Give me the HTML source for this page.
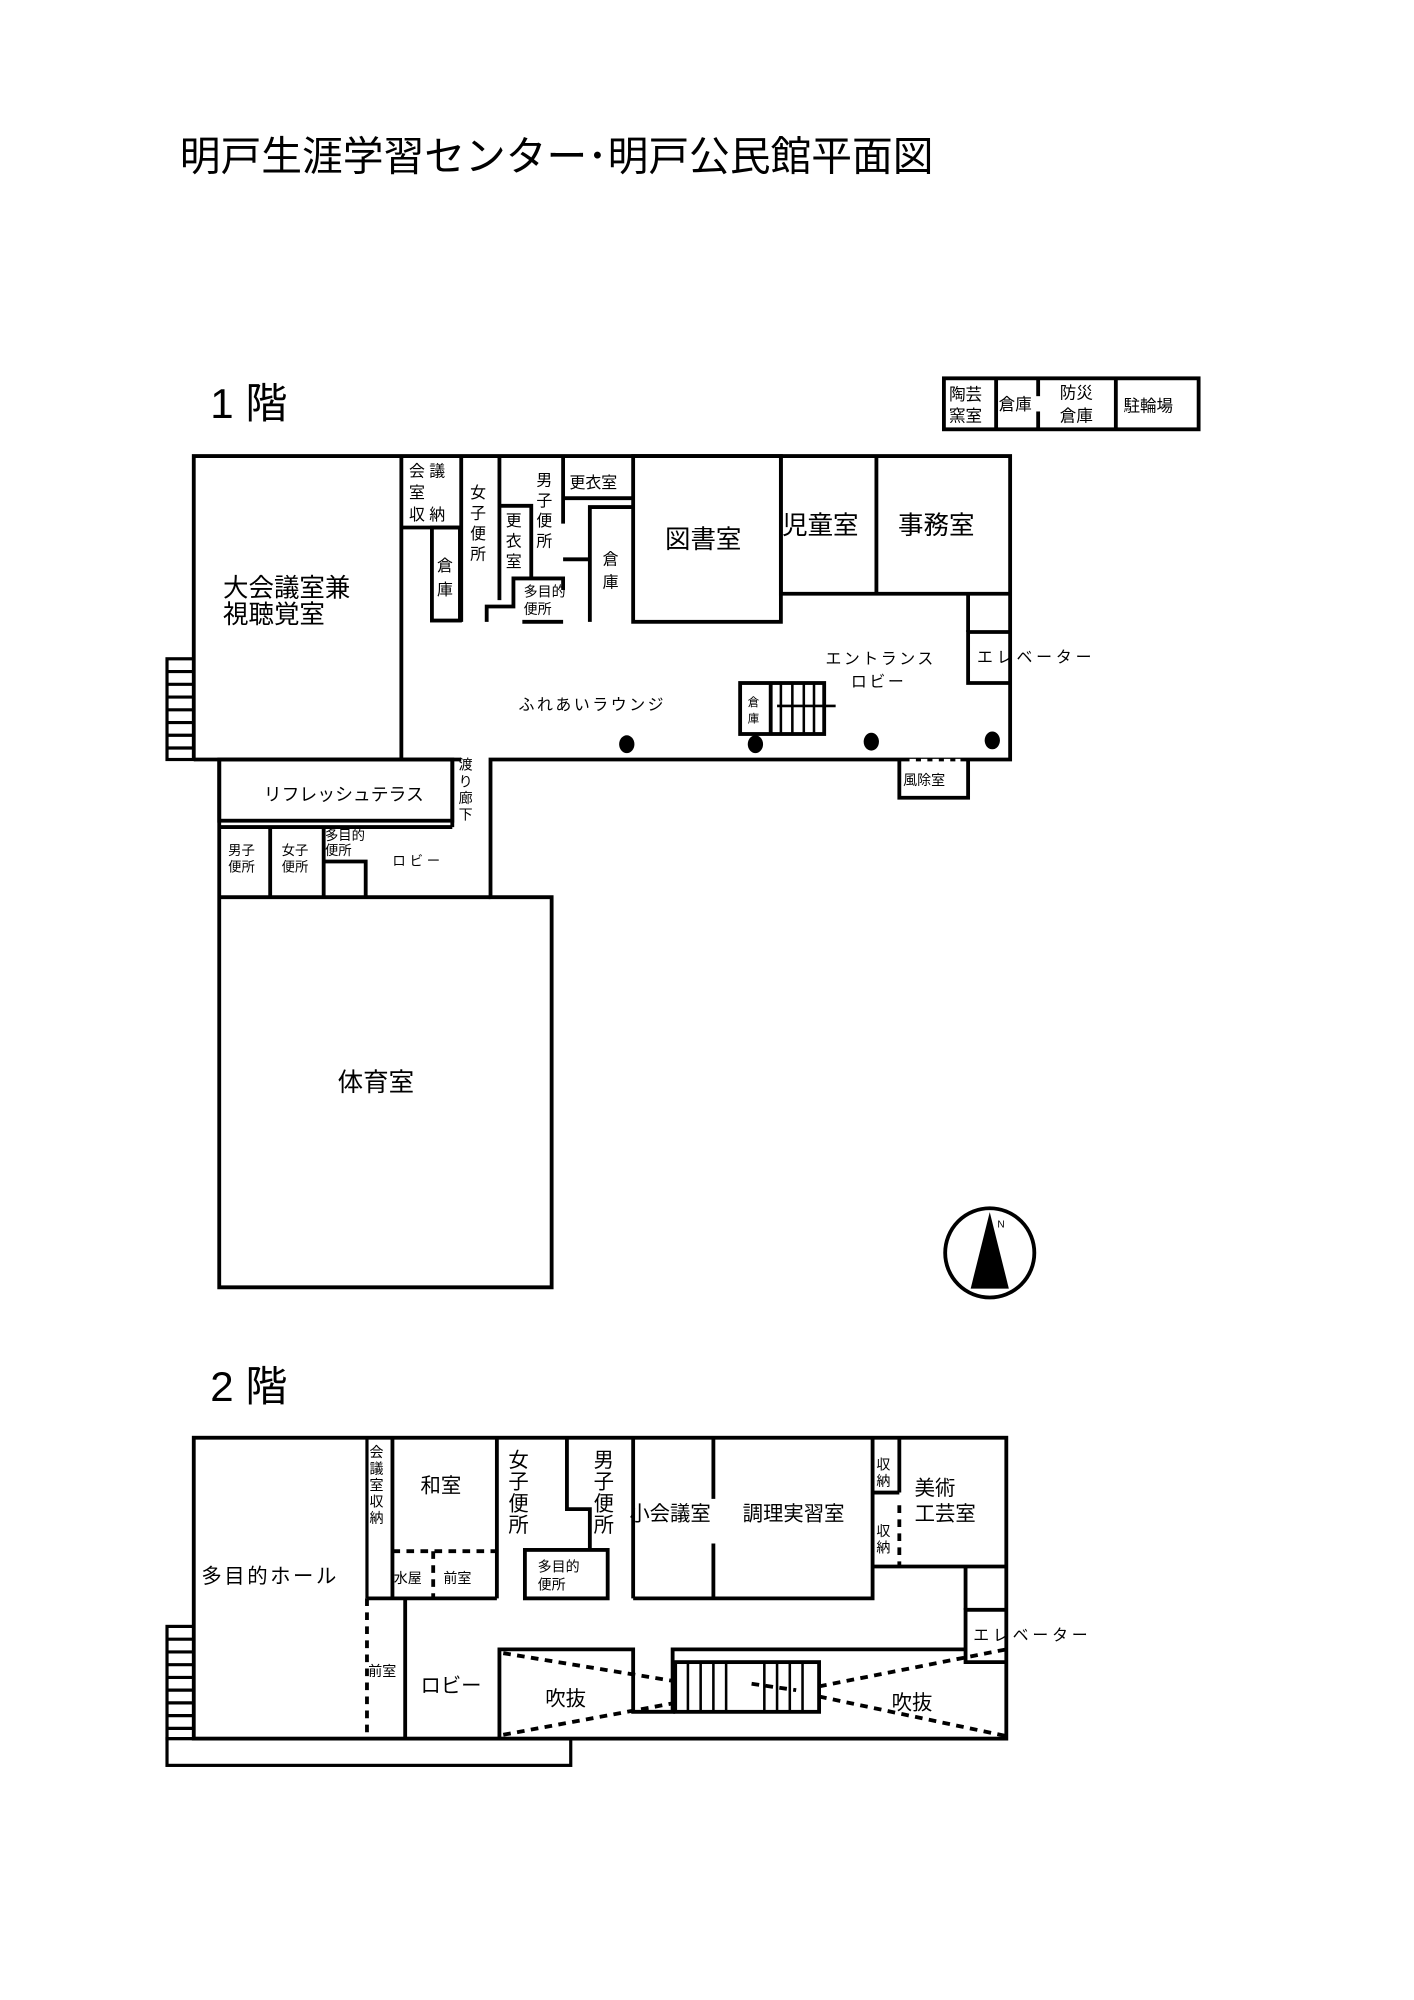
<!DOCTYPE html>
<html><head><meta charset="utf-8"><style>
html,body{margin:0;padding:0;background:#fff;}
svg{display:block;}
text{font-family:"Liberation Sans","Noto Sans CJK JP",sans-serif;fill:#000;}
</style></head><body>
<svg width="1414" height="2000" viewBox="-2.34 -2.34 1104.7 1562.5" xmlns="http://www.w3.org/2000/svg">
<rect x="-3" y="-3" width="1110" height="1570" fill="#fff"/>
<g transform="matrix(0.995 0 0 0.996 -2.2 -1.6)">
<text x="141" y="133" font-size="32">明戸生涯学習センター･明戸公民館平面図</text>

<text x="165" y="327" font-size="33">1 階</text>
<g stroke="#000" fill="none" stroke-width="3">
<rect x="741" y="296" width="200" height="40"/>
<line x1="782" y1="296" x2="782" y2="336"/>
<line x1="815" y1="296" x2="815" y2="310"/><line x1="815" y1="322" x2="815" y2="336"/>
<line x1="876" y1="296" x2="876" y2="336"/>
</g>
<g font-size="13">
<text x="745" y="313">陶芸</text><text x="745" y="330">窯室</text>
<text x="784" y="321">倉庫</text>
<text x="832" y="312">防災</text><text x="832" y="330">倉庫</text>
<text x="882" y="322">駐輪場</text>
</g>

<g stroke="#000" fill="none" stroke-width="3">
<polyline points="152,595 152,357 793,357 793,595 385,595 385,703 433,703 433,1009 172,1009 172,595"/>
<line x1="152" y1="595" x2="362" y2="595"/>
<rect x="131" y="516" width="21" height="79" stroke-width="2.5"/>
<line x1="315" y1="357" x2="315" y2="595"/>
<line x1="315" y1="413" x2="362" y2="413"/>
<rect x="339" y="413" width="22" height="73"/>
<line x1="362" y1="357" x2="362" y2="487"/>
<line x1="392" y1="357" x2="392" y2="470"/>
<polyline points="393,396 417,396 417,453"/>
<polyline points="382,487 382,475 403,475 403,453 442,453 442,462"/>
<line x1="410" y1="487" x2="442" y2="487"/>
<line x1="442" y1="357" x2="442" y2="410"/>
<line x1="442" y1="390" x2="497" y2="390"/>
<line x1="442" y1="438" x2="463" y2="438"/>
<polyline points="463,487 463,397 497,397"/>
<rect x="497" y="357" width="116" height="130"/>
<polyline points="613,357 613,465 793,465"/>
<line x1="688" y1="357" x2="688" y2="465"/>
<polyline points="793,495 760,495 760,535 793,535"/>
<line x1="760" y1="465" x2="760" y2="495"/>
<rect x="581" y="535" width="66" height="40"/>
<line x1="605" y1="535" x2="605" y2="575"/>
<line x1="613" y1="535" x2="613" y2="575" stroke-width="2"/>
<line x1="622" y1="535" x2="622" y2="575" stroke-width="2"/>
<line x1="631" y1="535" x2="631" y2="575" stroke-width="2"/>
<line x1="639" y1="535" x2="639" y2="575" stroke-width="2"/>
<line x1="610" y1="553" x2="656" y2="553" stroke-width="2"/>
<polyline points="706,595 706,625 760,625 760,595"/>
<rect x="172" y="595" width="183" height="48"/>
<line x1="172" y1="648" x2="355" y2="648"/>
<line x1="355" y1="595" x2="355" y2="648"/>
<line x1="172" y1="703" x2="385" y2="703"/>
<line x1="212" y1="648" x2="212" y2="703"/>
<line x1="254" y1="648" x2="254" y2="703"/>
<polyline points="254,675 287,675 287,703"/>
<circle cx="777" cy="982" r="35" stroke-width="3"/>
</g>
<polygon points="777,950 762,1010 792,1010" fill="#000"/>
<text x="783" y="962" font-size="8">N</text>
<g fill="#000">
<ellipse cx="492" cy="583" rx="6" ry="7"/><ellipse cx="593" cy="583" rx="6" ry="7"/>
<ellipse cx="684" cy="581" rx="6" ry="7"/><ellipse cx="779" cy="580" rx="6" ry="7"/>
</g>
<g stroke="#000" stroke-width="2.5">
<line x1="131" y1="526" x2="152" y2="526"/><line x1="131" y1="536" x2="152" y2="536"/>
<line x1="131" y1="546" x2="152" y2="546"/><line x1="131" y1="556" x2="152" y2="556"/>
<line x1="131" y1="566" x2="152" y2="566"/><line x1="131" y1="576" x2="152" y2="576"/>
<line x1="131" y1="586" x2="152" y2="586"/>
</g>
<line x1="714" y1="596" x2="754" y2="596" stroke="#fff" stroke-width="3" stroke-dasharray="5,4"/>

<g font-size="20">
<text x="175" y="467">大会議室兼</text><text x="175" y="488">視聴覚室</text>
<text x="522" y="429">図書室</text>
<text x="614" y="418">児童室</text><text x="705" y="418">事務室</text>
<text x="265" y="855">体育室</text>
</g>
<g font-size="12.5">
<text x="321" y="373">会 議</text><text x="321" y="390">室</text><text x="321" y="407">収 納</text>
<text x="343" y="447">倉</text><text x="343" y="466">庫</text>
<text x="369" y="390">女</text><text x="369" y="406">子</text><text x="369" y="422">便</text><text x="369" y="438">所</text>
<text x="397" y="412">更</text><text x="397" y="428">衣</text><text x="397" y="444">室</text>
<text x="421" y="380">男</text><text x="421" y="396">子</text><text x="421" y="412">便</text><text x="421" y="428">所</text>
<text x="447" y="382">更衣室</text>
<text x="473" y="442">倉</text><text x="473" y="460">庫</text>
<text x="411" y="467" font-size="11">多目的</text><text x="411" y="481" font-size="11">便所</text>
<text x="407" y="556" letter-spacing="2">ふれあいラウンジ</text>
<text x="648" y="520" letter-spacing="2">エントランス</text><text x="668" y="538" letter-spacing="2">ロビー</text>
<text x="767" y="519" letter-spacing="3">エレベーター</text>
<text x="587" y="553" font-size="9">倉</text><text x="587" y="566" font-size="9">庫</text>
<text x="709" y="615" font-size="11">風除室</text>
<text x="207" y="627" font-size="14">リフレッシュテラス</text>
<text x="360" y="603" font-size="11">渡</text><text x="360" y="616" font-size="11">り</text><text x="360" y="629" font-size="11">廊</text><text x="360" y="642" font-size="11">下</text>
<text x="179" y="670" font-size="10.5">男子</text><text x="179" y="683" font-size="10.5">便所</text>
<text x="221" y="670" font-size="10.5">女子</text><text x="221" y="683" font-size="10.5">便所</text>
<text x="255" y="658" font-size="10.5">多目的</text><text x="255" y="670" font-size="10.5">便所</text>
<text x="308" y="678" font-size="10.5" letter-spacing="3">ロビー</text>
</g>

<text x="165" y="1098" font-size="33">2 階</text>
<g stroke="#000" fill="none" stroke-width="3">
<rect x="152" y="1127" width="638" height="236"/>
<rect x="131" y="1363" width="317" height="21" stroke-width="2.5"/>
<rect x="131" y="1275" width="21" height="88" stroke-width="2.5"/>
<line x1="288" y1="1127" x2="288" y2="1253" stroke-width="2.5"/>
<line x1="308" y1="1127" x2="308" y2="1253"/>
<line x1="288" y1="1253" x2="390" y2="1253"/>
<line x1="390" y1="1127" x2="390" y2="1253"/>
<line x1="318" y1="1253" x2="318" y2="1363"/>
<polyline points="445,1127 445,1183 463,1183 463,1215"/>
<rect x="412" y="1215" width="65" height="38"/>
<line x1="497" y1="1127" x2="497" y2="1253"/>
<line x1="560" y1="1127" x2="560" y2="1175"/><line x1="560" y1="1210" x2="560" y2="1253"/>
<polyline points="497,1253 685,1253 685,1127"/>
<line x1="685" y1="1170" x2="706" y2="1170"/>
<line x1="706" y1="1127" x2="706" y2="1170"/>
<line x1="685" y1="1228" x2="790" y2="1228"/>
<polyline points="790,1262 758,1262 758,1303 790,1303"/>
<line x1="758" y1="1228" x2="758" y2="1262"/>
<polyline points="392,1363 392,1293 497,1293 497,1342 530,1342"/>
<polyline points="528,1342 528,1293 758,1293"/>
<rect x="530" y="1303" width="113" height="39"/>
</g>
<g stroke="#000" fill="none" stroke-width="3" stroke-dasharray="6,5">
<line x1="288" y1="1253" x2="288" y2="1363"/>
<line x1="308" y1="1216" x2="390" y2="1216"/>
<line x1="340" y1="1216" x2="340" y2="1253"/>
<line x1="706" y1="1180" x2="706" y2="1228"/>
<line x1="395" y1="1296" x2="530" y2="1318"/>
<line x1="395" y1="1360" x2="530" y2="1335"/>
<line x1="643" y1="1322" x2="790" y2="1293"/>
<line x1="643" y1="1330" x2="790" y2="1361"/>
<line x1="590" y1="1320" x2="625" y2="1325"/>
</g>
<g stroke="#000" stroke-width="2">
<line x1="540" y1="1303" x2="540" y2="1342"/><line x1="550" y1="1303" x2="550" y2="1342"/>
<line x1="560" y1="1303" x2="560" y2="1342"/><line x1="570" y1="1303" x2="570" y2="1342"/>
<line x1="600" y1="1303" x2="600" y2="1342"/><line x1="610" y1="1303" x2="610" y2="1342"/>
<line x1="620" y1="1303" x2="620" y2="1342"/><line x1="630" y1="1303" x2="630" y2="1342"/>
</g>
<g stroke="#000" stroke-width="2.5">
<line x1="131" y1="1285" x2="152" y2="1285"/><line x1="131" y1="1295" x2="152" y2="1295"/>
<line x1="131" y1="1305" x2="152" y2="1305"/><line x1="131" y1="1315" x2="152" y2="1315"/>
<line x1="131" y1="1325" x2="152" y2="1325"/><line x1="131" y1="1335" x2="152" y2="1335"/>
<line x1="131" y1="1345" x2="152" y2="1345"/><line x1="131" y1="1355" x2="152" y2="1355"/>
</g>
<g font-size="16">
<text x="158" y="1241" letter-spacing="2">多目的ホール</text>
<text x="330" y="1170">和室</text>
<text x="330" y="1327">ロビー</text>
<text x="494" y="1192">小会議室</text>
<text x="583" y="1192">調理実習室</text>
<text x="718" y="1172">美術</text><text x="718" y="1192">工芸室</text>
<text x="399" y="1150">女</text><text x="399" y="1167">子</text><text x="399" y="1184">便</text><text x="399" y="1201">所</text>
<text x="466" y="1150">男</text><text x="466" y="1167">子</text><text x="466" y="1184">便</text><text x="466" y="1201">所</text>
<text x="428" y="1337">吹抜</text><text x="700" y="1340">吹抜</text>
</g>
<g font-size="11">
<text x="290" y="1142">会</text><text x="290" y="1155">議</text><text x="290" y="1168">室</text><text x="290" y="1181">収</text><text x="290" y="1194">納</text>
<text x="309" y="1241">水屋</text><text x="348" y="1241">前室</text>
<text x="289" y="1314">前室</text>
<text x="422" y="1232">多目的</text><text x="422" y="1246">便所</text>
<text x="688" y="1152">収</text><text x="688" y="1165">納</text>
<text x="688" y="1204">収</text><text x="688" y="1217">納</text>
<text x="764" y="1286" font-size="12.5" letter-spacing="3">エレベーター</text>
</g>
</g>
</svg>
</body></html>
